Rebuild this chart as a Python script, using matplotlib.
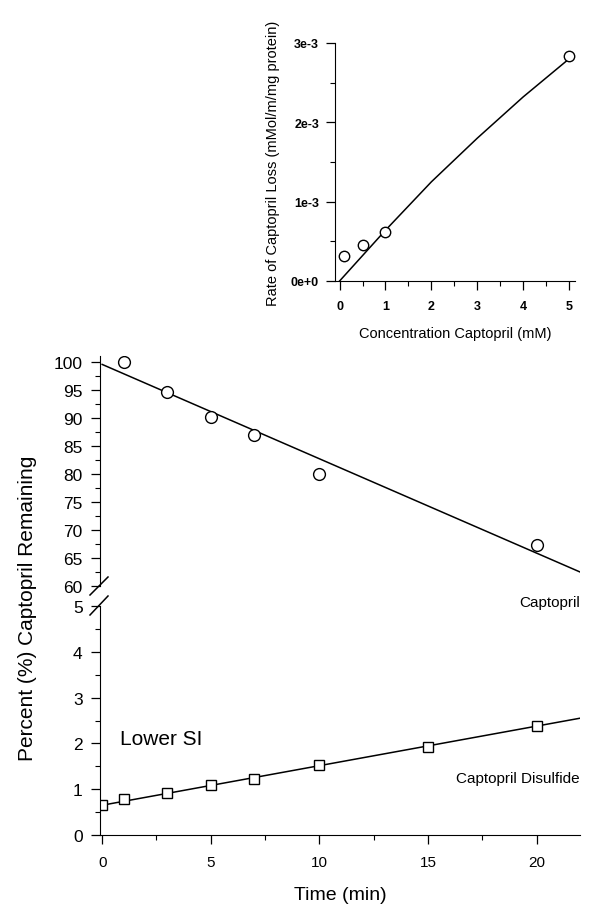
import matplotlib
matplotlib.use('Agg')
import matplotlib.pyplot as plt
from matplotlib.lines import Line2D
from matplotlib.ticker import MultipleLocator

plt.rcParams['font.family'] = ['Liberation Sans', 'DejaVu Sans']

# main panel: captopril remaining (%) vs time
capt_t = [1, 3, 5, 7, 10, 20]
capt_pct = [100.0, 94.5, 90.2, 87.0, 80.0, 67.3]
capt_fit_t = [0, 22]
capt_fit_pct = [99.5, 62.5]

# captopril disulfide (%) vs time
disulf_t = [0, 1, 3, 5, 7, 10, 15, 20]
disulf_pct = [0.65, 0.78, 0.92, 1.10, 1.23, 1.53, 1.93, 2.38]
disulf_fit_t = [0, 22]
disulf_fit_pct = [0.65, 2.55]

# inset: rate of loss vs concentration
conc = [0.1, 0.5, 1.0, 5.0]
rate = [3.2e-4, 4.6e-4, 6.2e-4, 2.83e-3]
rate_fit_x = [0, 1, 2, 3, 4, 5]
rate_fit_y = [0, 6.4e-4, 1.25e-3, 1.80e-3, 2.32e-3, 2.80e-3]

W, H = 592, 912
fig = plt.figure(figsize=(W / 100, H / 100), dpi=100)


def box(x0, y0, x1, y1):
    # pixel box (top-left origin) -> figure fraction
    return [x0 / W, 1 - y1 / H, (x1 - x0) / W, (y1 - y0) / H]


ax_up = fig.add_axes(box(100, 357, 580, 587))
ax_lo = fig.add_axes(box(100, 607, 580, 836))
ax_in = fig.add_axes(box(335, 44, 575, 282))

for ax in (ax_up, ax_lo, ax_in):
    ax.spines['top'].set_visible(False)
    ax.spines['right'].set_visible(False)
    ax.tick_params(which='major', direction='out', length=6.5, width=0.9, labelsize=11)
    ax.tick_params(which='minor', direction='out', length=3.5, width=0.8)

for ax in (ax_up, ax_lo):
    ax.tick_params(axis='y', labelsize=12.5, pad=6)

# upper segment
ax_up.plot(capt_fit_t, capt_fit_pct, color='black', lw=1.1)
ax_up.plot(capt_t, capt_pct, 'o', ms=8.5, mfc='white', mec='black', mew=1.0)
ax_up.set_xlim(-0.1, 22)
ax_up.set_ylim(60, 101)
ax_up.set_yticks(range(60, 101, 5))
ax_up.yaxis.set_minor_locator(MultipleLocator(2.5))
ax_up.spines['bottom'].set_visible(False)
ax_up.tick_params(axis='x', which='both', bottom=False, labelbottom=False)

# lower segment
ax_lo.plot(disulf_fit_t, disulf_fit_pct, color='black', lw=1.1)
ax_lo.plot(disulf_t, disulf_pct, 's', ms=7.5, mfc='white', mec='black', mew=1.0)
ax_lo.set_xlim(-0.1, 22)
ax_lo.set_ylim(0, 5)
ax_lo.set_xticks([0, 5, 10, 15, 20])
ax_lo.xaxis.set_minor_locator(MultipleLocator(2.5))
ax_lo.set_yticks([0, 1, 2, 3, 4, 5])
ax_lo.yaxis.set_minor_locator(MultipleLocator(0.5))
ax_lo.tick_params(axis='x', pad=8)
ax_lo.set_xlabel('Time (min)', fontsize=14, labelpad=12)

ax_lo.text(0.8, 2.1, 'Lower SI', fontsize=15, va='center', ha='left')
ax_lo.text(22, 1.24, 'Captopril Disulfide', fontsize=11, va='center', ha='right')
ax_lo.text(22, 5.09, 'Captopril', fontsize=11, va='center', ha='right', clip_on=False)

fig.text(28 / W, 1 - 608 / H, 'Percent (%) Captopril Remaining', rotation=90,
         fontsize=15, ha='center', va='center')

# axis break marks
for y0, y1 in [(596, 578), (616, 597)]:
    fig.add_artist(Line2D([90 / W, 108 / W], [1 - y0 / H, 1 - y1 / H],
                          transform=fig.transFigure, color='black', lw=1.1))

# inset
ax_in.plot(rate_fit_x, rate_fit_y, color='black', lw=1.1)
ax_in.plot(conc, rate, 'o', ms=7.5, mfc='white', mec='black', mew=1.0)
ax_in.set_xlim(-0.1, 5.13)
ax_in.set_ylim(0, 3e-3)
ax_in.set_xticks([0, 1, 2, 3, 4, 5])
ax_in.xaxis.set_minor_locator(MultipleLocator(0.5))
ax_in.set_yticks([0, 1e-3, 2e-3, 3e-3])
ax_in.set_yticklabels(['0e+0', '1e-3', '2e-3', '3e-3'])
ax_in.yaxis.set_minor_locator(MultipleLocator(5e-4))
ax_in.tick_params(which='major', labelsize=9, length=6.5)
for lab in ax_in.get_xticklabels() + ax_in.get_yticklabels():
    lab.set_fontweight('bold')
ax_in.tick_params(axis='x', pad=7)
ax_in.tick_params(axis='y', pad=5)
ax_in.set_xlabel('Concentration Captopril (mM)', fontsize=10.5, labelpad=10)
ax_in.set_ylabel('Rate of Captopril Loss (mMol/m/mg protein)', fontsize=10.5, labelpad=8)

fig.savefig('out.png', dpi=100)
